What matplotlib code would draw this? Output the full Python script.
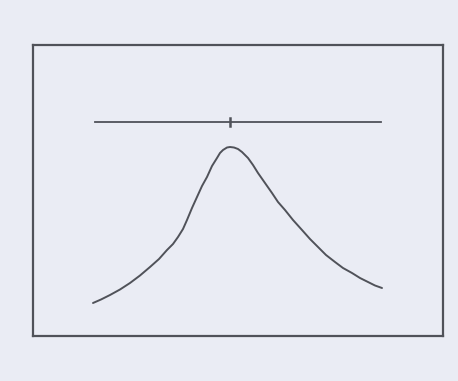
import numpy as np
import matplotlib
matplotlib.use("Agg")
import matplotlib.pyplot as plt

# Bell-shaped response curve (frame units, origin at lower-left of the box)
curve_x = [60, 68, 77, 87, 97, 107, 117, 126, 134, 140, 145, 150, 154, 159,
           164, 169, 174, 179, 184, 187, 190, 194, 197, 201, 205, 209,
           215, 220, 225, 232, 239, 245, 252, 260, 269, 277, 285, 293,
           302, 310, 319, 327, 335, 342, 349]
curve_y = [33, 36.5, 41, 46.5, 53, 60.5, 69, 77, 86, 92, 99, 107, 116, 128,
           139, 150, 159, 170, 178, 183, 186, 188.5, 189, 188.5, 187, 184,
           178, 171, 163, 153, 143, 134, 126, 116, 106, 97, 89, 81,
           74, 68, 63, 58, 54, 50.5, 48]

# Horizontal reference bar above the peak, with a centre mark
bar_x = [62, 348]
bar_y = 214
mark_x = 197
mark_half = 4

bg = "#eaecf4"
ink = "#505259"

fig = plt.figure(figsize=(4.58, 3.81), dpi=100, facecolor=bg)
ax = fig.add_axes([33 / 458, 45 / 381, 410 / 458, 291 / 381], facecolor=bg)

ax.plot(curve_x, curve_y, color=ink, lw=1.4,
        solid_capstyle="round", solid_joinstyle="round")
ax.plot(bar_x, [bar_y, bar_y], color=ink, lw=1.3)
ax.plot([mark_x, mark_x], [bar_y - mark_half, bar_y + mark_half], color=ink, lw=1.8)

ax.set_xlim(0, 410)
ax.set_ylim(0, 291)
ax.set_xticks([])
ax.set_yticks([])
for s in ax.spines.values():
    s.set_color(ink)
    s.set_linewidth(1.6)

fig.savefig("out.png", dpi=100, facecolor=bg)
